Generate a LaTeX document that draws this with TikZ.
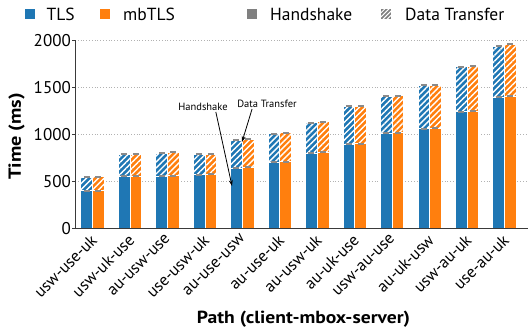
\documentclass[tikz,border=0pt]{standalone}
\usepackage{fontspec}
\setmainfont{PT Sans}
\usetikzlibrary{patterns.meta,arrows.meta}
\definecolor{tlsblue}{HTML}{1F77B4}
\definecolor{mborange}{HTML}{FF7F0E}
\definecolor{errgray}{HTML}{8A8A8A}
\definecolor{axgray}{HTML}{3A3A3A}
\tikzset{
  barseg/.style={draw=white,line width=0.7pt},
  hatch/.style={pattern={Lines[angle=45,distance=4.2pt,line width=1.4pt]},pattern color=white},
  errcap/.style={fill=errgray},
  grid line/.style={gray!60,dotted,line width=0.8pt},
  ticklab/.style={font=\fontsize{17}{17}\selectfont,inner sep=0pt},
  xlab/.style={font=\fontsize{16.5}{16.5}\selectfont,inner sep=0pt,rotate=45,anchor=north east},
  legtext/.style={font=\fontsize{17.5}{17.5}\selectfont,inner sep=0pt,anchor=west},
  axtitle/.style={font=\bfseries\fontsize{17.5}{17.5}\selectfont,inner sep=0pt},
  annot/.style={font=\fontsize{10.5}{10.5}\selectfont,inner sep=0pt},
  annarrow/.style={-{Stealth[length=6pt,width=4pt]},line width=0.8pt,black}
}
\begin{document}
\begin{tikzpicture}[x=1pt,y=1pt]
\useasboundingbox (0,0) rectangle (528,330);
% grid lines
\foreach \v in {500,1000,1500,2000}{
  \pgfmathsetmacro{\yy}{101.7+0.094*\v}
  \draw[grid line] (75,\yy) -- (528,\yy);
}
% bars
\foreach \i/\ha/\ta/\hb/\tb in {0/400/546/400/549,1/553/787/553/787,2/553/801/560/808,3/570/787/575/790,4/638/936/649/947,5/705/1007/709/1017,6/801/1124/808/1135,7/894/1298/900/1301,8/1011/1408/1017/1410,9/1060/1521/1064/1525,10/1241/1720/1248/1727,11/1394/1936/1404/1958}{
  \pgfmathsetmacro{\xa}{80.8+37.45*\i}
  \pgfmathsetmacro{\xb}{\xa+11.7}
  \pgfmathsetmacro{\xc}{\xa+23.4}
  \pgfmathsetmacro{\ya}{101.7+0.094*\ha}
  \pgfmathsetmacro{\yat}{101.7+0.094*\ta}
  \pgfmathsetmacro{\yb}{101.7+0.094*\hb}
  \pgfmathsetmacro{\ybt}{101.7+0.094*\tb}
  \fill[tlsblue] (\xa,101.7) rectangle (\xb,\yat);
  \fill[hatch] (\xa,\ya) rectangle (\xb,\yat);
  \draw[barseg] (\xa,101.7) rectangle (\xb,\ya);
  \draw[barseg] (\xa,\ya) rectangle (\xb,\yat);
  \fill[mborange] (\xb,101.7) rectangle (\xc,\ybt);
  \fill[hatch] (\xb,\yb) rectangle (\xc,\ybt);
  \draw[barseg] (\xb,101.7) rectangle (\xc,\yb);
  \draw[barseg] (\xb,\yb) rectangle (\xc,\ybt);
  \pgfmathsetmacro{\ca}{\xa+5.85}
  \pgfmathsetmacro{\cb}{\xb+5.85}
  \fill[errcap] (\ca-3,\ya-1) rectangle (\ca+3,\ya+1);
  \fill[errcap] (\ca-3,\yat-1) rectangle (\ca+3,\yat+1);
  \fill[errcap] (\cb-3,\yb-1) rectangle (\cb+3,\yb+1);
  \fill[errcap] (\cb-3,\ybt-1) rectangle (\cb+3,\ybt+1);
}
% axes
\draw[axgray,line width=0.8pt] (75,289.7) -- (75,101.7) -- (528,101.7);
\foreach \v in {0,500,1000,1500,2000}{
  \pgfmathsetmacro{\yy}{101.7+0.094*\v}
  \draw[axgray,line width=0.8pt] (72,\yy) -- (75,\yy);
  \node[ticklab,anchor=east] (yt\v) at (71,\yy) {\v};
}
% x tick labels
\foreach \i/\lab in {0/usw-use-uk,1/usw-uk-use,2/au-usw-use,3/use-usw-uk,4/au-use-usw,5/au-use-uk,6/au-usw-uk,7/au-uk-use,8/usw-au-use,9/au-uk-usw,10/usw-au-uk,11/use-au-uk}{
  \pgfmathsetmacro{\xx}{80.8+37.45*\i+9}
  \node[xlab] (xl\i) at (\xx,97) {\lab};
}
% axis titles
\node[axtitle,rotate=90] (ytitle) at (16.5,193.5) {\scalebox{1.16}[1]{Time (ms)}};
\node[axtitle] (xtitle) at (303.5,11) {\scalebox{1.12}[1]{Path (client-mbox-server)}};
% legend
\fill[tlsblue] (25,311) rectangle (35,321);
\node[legtext] (lt1) at (46.5,316) {TLS};
\fill[mborange] (100,311) rectangle (110,321);
\node[legtext] (lt2) at (123,316) {mbTLS};
\fill[gray] (247,311) rectangle (257,321);
\node[legtext] (lt3) at (270,316) {Handshake};
\fill[gray] (381,311) rectangle (391,321);
\fill[pattern={Lines[angle=45,distance=3pt,line width=0.9pt]},pattern color=white] (381,311) rectangle (391,321);
\node[legtext] (lt4) at (405,316) {Data Transfer};
% annotations
\node[annot] (hs) at (203,223) {Handshake};
\node[annot] (dt) at (267,226) {Data Transfer};
\coordinate (hstip) at (232,144);
\coordinate (dttip) at (242,188);
\draw[annarrow] (hs.south east) ++(-12,-1) -- (hstip);
\draw[annarrow] (dt.south west) ++(15,-1) -- (dttip);
\end{tikzpicture}
\end{document}
